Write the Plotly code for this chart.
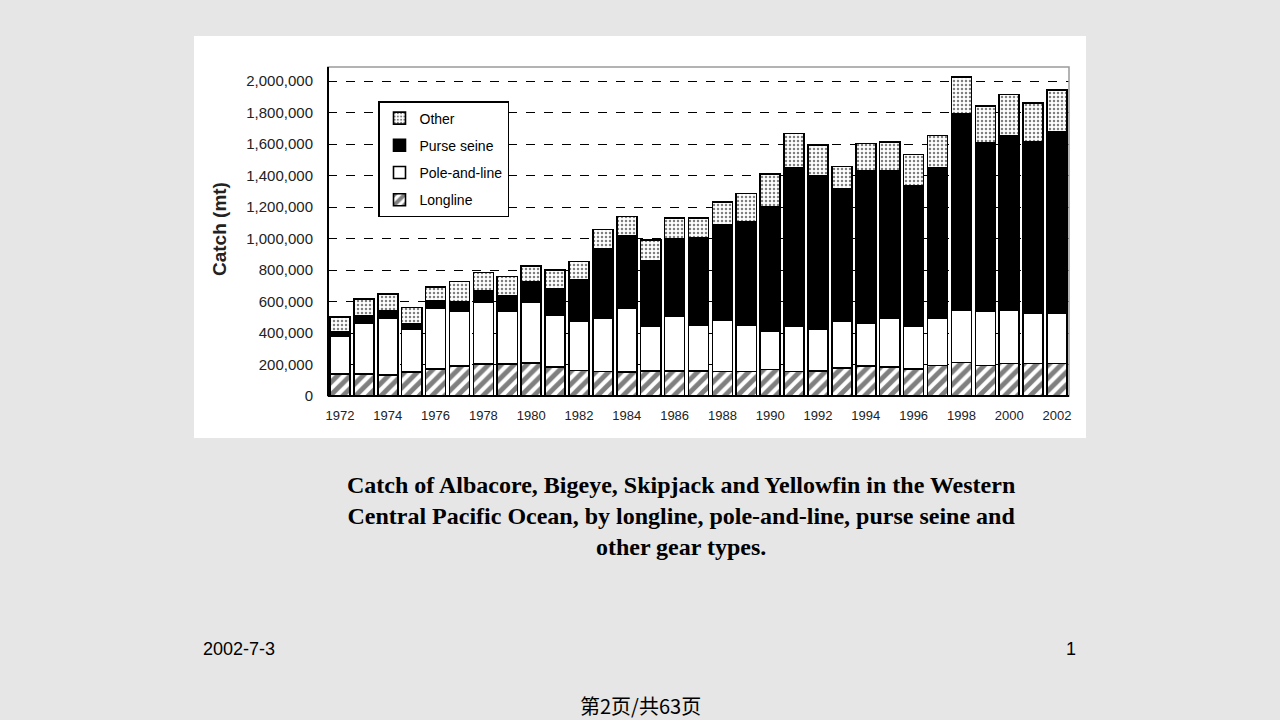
import plotly.graph_objects as go

years = list(range(1972, 2003))
longline = [138, 138, 132, 151, 172, 191, 202, 202, 210, 183, 162, 155, 153, 157, 157, 157,
            155, 155, 168, 155, 158, 176, 191, 185, 170, 195, 212, 195, 206, 206, 206]
pole_and_line = [244, 325, 363, 271, 386, 346, 397, 335, 389, 333, 314, 340, 405, 287, 348, 295,
                 327, 297, 246, 289, 266, 297, 272, 310, 276, 300, 334, 342, 340, 321, 321]
purse_seine = [26, 47, 46, 39, 47, 64, 70, 98, 129, 164, 263, 439, 457, 416, 493, 556,
               607, 656, 790, 1006, 975, 845, 966, 938, 892, 955, 1248, 1070, 1110, 1091, 1150]
other = [95, 106, 107, 101, 89, 127, 116, 123, 96, 121, 115, 123, 125, 132, 131, 121,
         142, 179, 206, 217, 196, 141, 174, 181, 195, 206, 233, 234, 259, 244, 266]

x_tick_years = list(range(1972, 2003, 2))
y_tick_vals = list(range(0, 2000001, 200000))
y_tick_text = ["0" if v == 0 else f"{v:,}" for v in y_tick_vals]

caption = ("Catch of Albacore, Bigeye, Skipjack and Yellowfin in the Western<br>"
           "Central Pacific Ocean, by longline, pole-and-line, purse seine and<br>"
           "other gear types.")

W, H = 1280, 720
PL, PR, PT, PB = 328, 1069, 67, 396

fig = go.Figure()

def add(name, vals, pattern, rank):
    fig.add_trace(go.Bar(
        x=years, y=[v * 1000 for v in vals], name=name, legendgroup=name, legendrank=rank,
        marker=dict(color="white", line=dict(color="black", width=1.6), pattern=pattern),
    ))

add("Longline", longline, dict(shape="/", fgcolor="black", bgcolor="white", size=9, solidity=0.55), 4)
add("Pole-and-line", pole_and_line, dict(shape="", fgcolor="black", bgcolor="white"), 3)
add("Purse seine", purse_seine, dict(shape="x", fgcolor="black", bgcolor="black", size=4, solidity=1), 2)
add("Other", other, dict(shape=".", fgcolor="black", bgcolor="white", size=4, solidity=0.3), 1)

# chart picture background
fig.add_shape(type="rect", xref="paper", yref="paper",
              x0=(194 - PL) / (PR - PL), x1=(1086 - PL) / (PR - PL),
              y0=(PB - 438) / (PB - PT), y1=(PB - 36) / (PB - PT),
              fillcolor="white", line=dict(width=0), layer="below")
# plot frame (grey top/right)
fig.add_shape(type="rect", xref="x domain", yref="y domain", x0=0, x1=1, y0=0, y1=1,
              line=dict(color="#9a9a9a", width=1.5), layer="above")
fig.add_shape(type="line", xref="x domain", yref="y domain", x0=0, x1=0, y0=0, y1=1,
              line=dict(color="black", width=2), layer="above")
fig.add_shape(type="line", xref="x domain", yref="y domain", x0=0, x1=1, y0=0, y1=0,
              line=dict(color="black", width=2), layer="above")

fig.update_layout(
    width=W, height=H,
    margin=dict(l=PL, r=W - PR, t=PT, b=H - PB, pad=0),
    paper_bgcolor="#e6e6e6", plot_bgcolor="white",
    barmode="stack", bargap=0.16,
    showlegend=True,
    legend=dict(x=(378 - PL) / (PR - PL), y=(PB - 101) / (PB - PT), xanchor="left", yanchor="top",
                bgcolor="white", bordercolor="black", borderwidth=1.5,
                font=dict(family="Arial", size=14, color="black"),
                traceorder="grouped", tracegroupgap=6, itemwidth=30),
    font=dict(family="Arial", color="#222"),
)
fig.update_xaxes(range=[1971.5, 2002.5], tickvals=x_tick_years, ticktext=[str(y) for y in x_tick_years],
                 showgrid=False, zeroline=False, showline=False, ticks="",
                 tickfont=dict(family="Arial", size=13, color="#222"), ticklabelstandoff=10)
fig.update_yaxes(range=[0, 2090000], tickvals=y_tick_vals, ticktext=y_tick_text,
                 showgrid=True, gridcolor="black", griddash="dash", gridwidth=1,
                 zeroline=False, showline=False, ticks="",
                 tickfont=dict(family="Arial", size=15, color="#222"), ticklabelstandoff=14)

fig.add_annotation(xref="paper", yref="paper", x=(219 - PL) / (PR - PL), y=(PB - 229) / (PB - PT),
                   text="<b>Catch (mt)</b>", textangle=-90, showarrow=False,
                   font=dict(family="Arial", size=19, color="#222"), xanchor="center", yanchor="middle")
fig.add_annotation(xref="paper", yref="paper", x=(681 - PL) / (PR - PL), y=(PB - 516) / (PB - PT),
                   text="<b>" + caption + "</b>", showarrow=False, align="center",
                   font=dict(family="Liberation Serif", size=24, color="black"),
                   xanchor="center", yanchor="middle")
fig.add_annotation(xref="paper", yref="paper", x=(201 - PL) / (PR - PL), y=(PB - 649) / (PB - PT),
                   text="2002-7-3", showarrow=False, xanchor="left", yanchor="middle",
                   font=dict(family="Arial", size=18, color="black"))
fig.add_annotation(xref="paper", yref="paper", x=(1078 - PL) / (PR - PL), y=(PB - 649) / (PB - PT),
                   text="1", showarrow=False, xanchor="right", yanchor="middle",
                   font=dict(family="Arial", size=18, color="black"))
fig.add_annotation(xref="paper", yref="paper", x=(640 - PL) / (PR - PL), y=(PB - 705) / (PB - PT),
                   text="第2页/共63页", showarrow=False, xanchor="center", yanchor="middle",
                   font=dict(family="Noto Sans CJK SC", size=20, color="black"))

fig.write_html("out.html")
